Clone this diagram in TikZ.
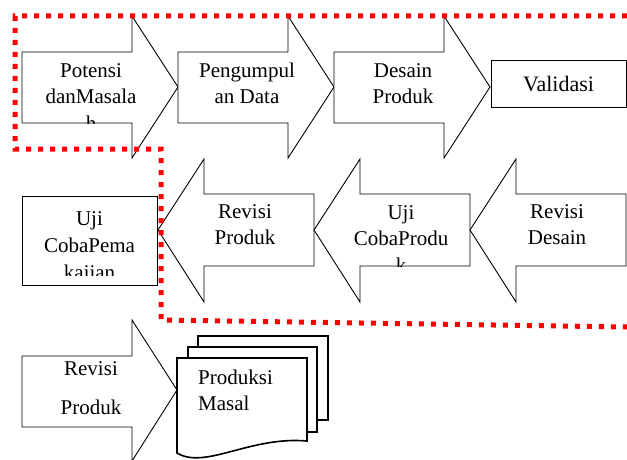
\documentclass[tikz,border=0pt]{standalone}
\usepackage{fontspec}
\setmainfont{Liberation Serif}
\definecolor{dotred}{HTML}{FF0000}

\begin{document}
\begin{tikzpicture}[
    x=1pt, y=-1pt,
    blk/.style={draw=black, line width=0.9pt, fill=white},
    lbl/.style={font=\fontsize{21}{26.5}\selectfont, align=center, inner sep=0pt, anchor=base},
    doc/.style={draw=black, line width=1.6pt, fill=white},
    dotline/.style={draw=dotred, line width=5pt, dash pattern=on 5pt off 7pt},
  ]
  \useasboundingbox (0,0) rectangle (627,460);

  % top row, pointing right (text placed on its last baseline)
  \foreach \l/\b/\nm/\txt in {22/130/potensi/{Potensi\\danMasala\\h},
      178/103.5/kumpul/{Pengumpul\\an Data}, 334/103.5/desain/{Desain\\Produk}} {
    \draw[blk] (\l,52) -- (\l+110,52) -- (\l+110,16) -- (\l+156,87)
      -- (\l+110,158) -- (\l+110,123) -- (\l,123) -- cycle;
    \begin{scope}
      \clip (\l,52) rectangle (\l+156,123);
      \node[lbl] (\nm) at (\l+69,\b) {\txt};
    \end{scope}
  }
  \node[draw=black, line width=0.9pt, minimum width=135pt, minimum height=47pt,
    inner sep=0pt, font=\fontsize{22}{26.5}\selectfont] (validasi) at (558.5,84) {Validasi};

  % middle row, pointing left
  \foreach \r/\b/\nm/\txt in {314/244.5/revprod/{Revisi\\Produk},
      470/272/ujiprod/{Uji\\CobaProdu\\k}, 626/244.5/revdes/{Revisi\\Desain}} {
    \draw[blk] (\r,194) -- (\r-110,194) -- (\r-110,159) -- (\r-156,230)
      -- (\r-110,302) -- (\r-110,266) -- (\r,266) -- cycle;
    \begin{scope}
      \clip (\r-156,194) rectangle (\r,266);
      \node[lbl] (\nm) at (\r-69,\b) {\txt};
    \end{scope}
  }
  \draw[blk] (22,196) rectangle (157,285);
  \begin{scope}
    \clip (22,196) rectangle (157,275.5);
    \node[lbl] (ujipem) at (89.5,279) {Uji\\[1pt]CobaPema\\kajian};
  \end{scope}

  % bottom row
  \draw[blk] (22,356) -- (132,356) -- (132,320) -- (177,390)
    -- (132,461) -- (132,427) -- (22,427) -- cycle;
  \node[lbl] (revprodb) at (91,414) {Revisi\\[12.5pt]Produk};

  \draw[doc] (198,336) rectangle (328,420);
  \draw[doc] (188,347) rectangle (317,432);
  \draw[doc] (177,358) -- (307,358) -- (307,441)
    .. controls (250,436) and (205,470) .. (177,453) -- cycle;
  \node[lbl, align=left, anchor=base west] (masal) at (198,410.5) {Produksi\\Masal};

  % red dotted frame
  \draw[dotline] (627,16) -- (15,16) -- (15,149) -- (161,149) -- (161,320) -- (627,327);
\end{tikzpicture}
\end{document}
